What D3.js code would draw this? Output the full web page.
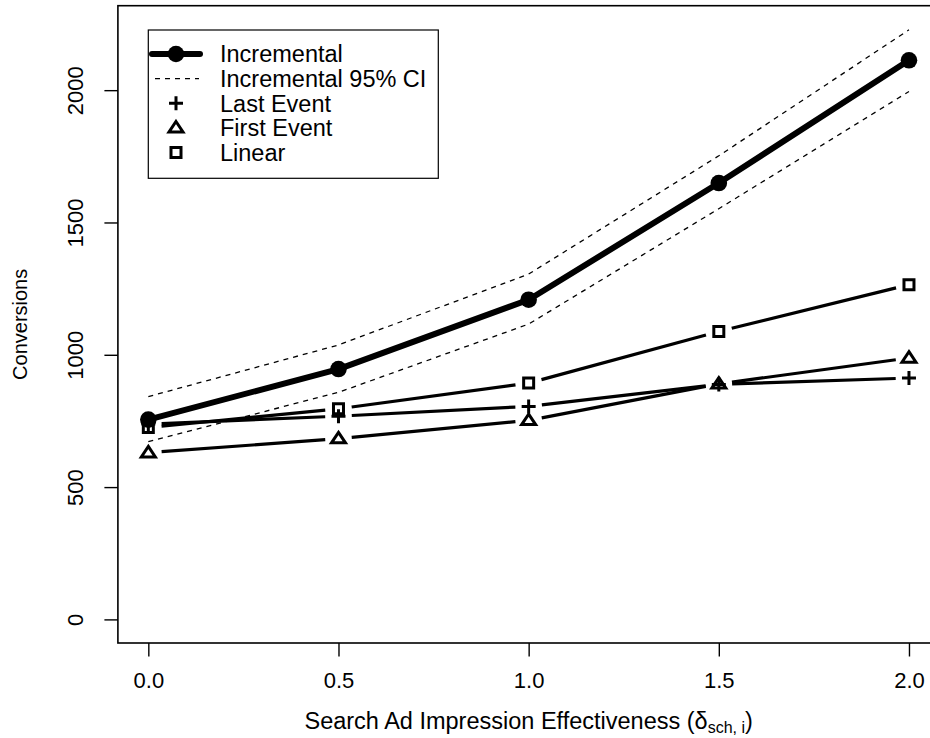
<!DOCTYPE html>
<meta charset="utf-8">
<script src="https://d3js.org/d3.v7.min.js"></script>
<style>
  body { margin: 0; background: #fff; }
  text { font-family: "Liberation Sans", Arial, Helvetica, sans-serif; fill: #000; }
</style>
<div id="chart"></div>
<script>

// data
var xVals = [0.0, 0.5, 1.0, 1.5, 2.0]
var incremental = [755, 946, 1208, 1649, 2113]
var ciUpper = [842, 1037, 1305, 1752, 2228]
var ciLower = [672, 858, 1116, 1552, 1995]
var lastEvent = [738, 768, 805, 888, 912]
var firstEvent = [630, 683, 752, 890, 988]
var linear = [725, 796, 893, 1088, 1265]

var xTicks = [0.0, 0.5, 1.0, 1.5, 2.0]
var yTicks = [0, 500, 1000, 1500, 2000]
var legendLabels = ["Incremental", "Incremental 95% CI", "Last Event", "First Event", "Linear"]

var w = 930, h = 738
var plot = {left: 117.9, right: 939.4, top: 5.7, bottom: 643}

var svg = d3.select("#chart").append("svg")
    .attr("width", w)
    .attr("height", h)

// R style 4% padding
var xlim = [0, 2], ylim = [0, 2230]
var xpad = 0.04 * (xlim[1] - xlim[0]), ypad = 0.04 * (ylim[1] - ylim[0])

var xScale = d3.scaleLinear()
    .domain([xlim[0] - xpad, xlim[1] + xpad])
    .range([plot.left, plot.right])

var yScale = d3.scaleLinear()
    .domain([ylim[0] - ypad, ylim[1] + ypad])
    .range([plot.bottom, plot.top])

// box
svg.append("rect")
    .attr("x", plot.left)
    .attr("y", plot.top)
    .attr("width", plot.right - plot.left)
    .attr("height", plot.bottom - plot.top)
    .attr("fill", "none")
    .attr("stroke", "#000")
    .attr("stroke-width", 1.6)

// axes
var xAxis = svg.append("g")
    .attr("transform", `translate(0,${plot.bottom})`)
    .call(d3.axisBottom(xScale).tickValues(xTicks).tickSize(13.5).tickFormat(d3.format(".1f")))
xAxis.select(".domain").remove()
xAxis.selectAll("line").attr("stroke-width", 1.4)
xAxis.selectAll("text")
    .attr("y", 45).attr("dy", 0)
    .attr("font-size", "22px")
    .attr("font-family", null)

var yAxis = svg.append("g")
    .attr("transform", `translate(${plot.left},0)`)
    .call(d3.axisLeft(yScale).tickValues(yTicks).tickSize(13.5).tickFormat(d3.format("d")))
yAxis.select(".domain").remove()
yAxis.selectAll("line").attr("stroke-width", 1.4)
yAxis.selectAll("text")
    .attr("x", 0).attr("y", -35).attr("dy", 0)
    .attr("text-anchor", "middle")
    .attr("transform", "rotate(-90)")
    .attr("font-size", "22px")
    .attr("font-family", null)

// axis titles
svg.append("text")
    .attr("transform", `translate(27,${(plot.top + plot.bottom) / 2}) rotate(-90)`)
    .attr("text-anchor", "middle")
    .attr("font-size", "20px")
    .text("Conversions")

var xt = svg.append("text")
    .attr("x", (plot.left + plot.right) / 2)
    .attr("y", 729)
    .attr("text-anchor", "middle")
    .attr("font-size", "23.5px")
xt.append("tspan").text("Search Ad Impression Effectiveness (δ")
xt.append("tspan").attr("font-size", "16px").attr("dy", 4).text("sch, i")
xt.append("tspan").attr("dy", -4).text(")")

// symbols
function plusPath(s) { return `M${-s},0H${s}M0,${-s}V${s}` }
function triPath(s) { return `M0,${-s * 0.9}L${s},${s * 0.6}L${-s},${s * 0.6}Z` }
function squarePath(s) { return `M${-s},${-s}H${s}V${s}H${-s}Z` }

var symbolFor = {
  last: d => plusPath(7),
  first: d => triPath(7),
  linear: d => squarePath(5)
}

var lineGen = d3.line().x(d => xScale(d[0])).y(d => yScale(d[1]))

// CI dashed
;[ciUpper, ciLower].forEach(function (s) {
  svg.append("path")
    .datum(xVals.map((x, i) => [x, s[i]]))
    .attr("d", lineGen)
    .attr("fill", "none")
    .attr("stroke", "#000")
    .attr("stroke-width", 1.3)
    .attr("stroke-dasharray", "5,5")
})

// type "b" lines: segments with gaps around the points
function drawB(values, key) {
  var pts = xVals.map((x, i) => [xScale(x), yScale(values[i])])
  var gap = 13.3
  var g = svg.append("g")
  for (var i = 0; i < pts.length - 1; i++) {
    var a = pts[i], b = pts[i + 1]
    var dx = b[0] - a[0], dy = b[1] - a[1], len = Math.hypot(dx, dy)
    var ux = dx / len, uy = dy / len
    g.append("line")
      .attr("x1", a[0] + ux * gap).attr("y1", a[1] + uy * gap)
      .attr("x2", b[0] - ux * gap).attr("y2", b[1] - uy * gap)
      .attr("stroke", "#000").attr("stroke-width", 3.2)
  }
  g.selectAll("path.pt")
    .data(pts)
    .enter()
    .append("path")
      .attr("class", "pt")
      .attr("transform", d => `translate(${d[0]},${d[1]})`)
      .attr("d", symbolFor[key])
      .attr("fill", "none")
      .attr("stroke", "#000")
      .attr("stroke-width", 3)
}

drawB(linear, "linear")
drawB(firstEvent, "first")
drawB(lastEvent, "last")

// incremental
svg.append("path")
    .datum(xVals.map((x, i) => [x, incremental[i]]))
    .attr("d", lineGen)
    .attr("fill", "none")
    .attr("stroke", "#000")
    .attr("stroke-width", 6)
    .attr("stroke-linejoin", "round")

svg.selectAll("circle.inc")
    .data(xVals.map((x, i) => [x, incremental[i]]))
    .enter()
    .append("circle")
      .attr("class", "inc")
      .attr("cx", d => xScale(d[0]))
      .attr("cy", d => yScale(d[1]))
      .attr("r", 8.3)
      .attr("fill", "#000")

// legend
var legend = svg.append("g")
legend.append("rect")
    .attr("x", 148.3).attr("y", 30)
    .attr("width", 290).attr("height", 148.3)
    .attr("fill", "#fff")
    .attr("stroke", "#000")
    .attr("stroke-width", 1.2)

var rowY = [54, 78.6, 103.2, 127.8, 152.4]
var symX = 176, textX = 220

legendLabels.forEach(function (label, i) {
  legend.append("text")
    .attr("x", textX).attr("y", rowY[i])
    .attr("dy", "0.36em")
    .attr("font-size", "23.5px")
    .text(label)
})

legend.append("line")
    .attr("x1", 152).attr("x2", 200)
    .attr("y1", rowY[0]).attr("y2", rowY[0])
    .attr("stroke", "#000").attr("stroke-width", 6).attr("stroke-linecap", "round")
legend.append("circle")
    .attr("cx", symX).attr("cy", rowY[0]).attr("r", 8.3).attr("fill", "#000")

legend.append("line")
    .attr("x1", 155).attr("x2", 199)
    .attr("y1", rowY[1]).attr("y2", rowY[1])
    .attr("stroke", "#000").attr("stroke-width", 1.3).attr("stroke-dasharray", "5,5")

;["last", "first", "linear"].forEach(function (k, i) {
  legend.append("path")
    .attr("transform", `translate(${symX},${rowY[i + 2]})`)
    .attr("d", symbolFor[k]())
    .attr("fill", "none")
    .attr("stroke", "#000")
    .attr("stroke-width", 3)
})

</script>
